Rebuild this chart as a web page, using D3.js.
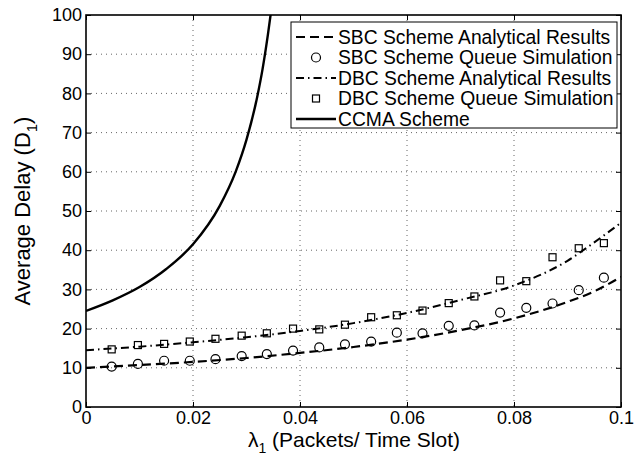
<!DOCTYPE html>
<html>
<head>
<meta charset="utf-8">
<script src="https://cdn.jsdelivr.net/npm/d3@7"></script>
<style>
  html, body { margin: 0; padding: 0; background: #fff; }
  svg { display: block; }
  text { font-family: "Liberation Sans", Arial, Helvetica, sans-serif; fill: #000; }
</style>
</head>
<body>
<svg id="chart" width="644" height="458"></svg>
<script>
// ---- data ----
const xTicks = [0, 0.02, 0.04, 0.06, 0.08, 0.1];
const xTickLabels = ["0", "0.02", "0.04", "0.06", "0.08", "0.1"];
const yTicks = [0, 10, 20, 30, 40, 50, 60, 70, 80, 90, 100];
const yTickLabels = ["0", "10", "20", "30", "40", "50", "60", "70", "80", "90", "100"];

const lambdaSim = [0.0048, 0.0097, 0.0146, 0.0194, 0.0242, 0.0291, 0.0338, 0.0387, 0.0436, 0.0484,
                   0.0533, 0.0581, 0.0629, 0.0678, 0.0726, 0.0774, 0.0823, 0.0872, 0.0921, 0.0968];
const sbcSim = [10.3, 11.0, 11.8, 11.8, 12.2, 13.0, 13.5, 14.4, 15.2, 16.0,
                16.7, 18.95, 18.8, 20.7, 20.8, 24.1, 25.3, 26.4, 29.8, 33.0];
const dbcSim = [14.7, 15.8, 16.1, 16.7, 17.4, 18.2, 18.8, 20.0, 19.8, 21.0,
                22.9, 23.4, 24.6, 26.5, 28.2, 32.3, 32.1, 38.2, 40.5, 41.8];

const lambdaAna = [0, 0.01, 0.02, 0.03, 0.04, 0.05, 0.06, 0.07, 0.08, 0.09, 0.095, 0.1];
const sbcAna = [10.0, 10.7, 11.5, 12.5, 13.8, 15.3, 17.2, 19.6, 22.6, 26.8, 29.5, 33.2];
const dbcAna = [14.5, 15.4, 16.5, 17.8, 19.4, 21.4, 24.0, 27.3, 31.0, 37.3, 42.0, 47.0];

const lambdaCcma = [0, 0.005, 0.01, 0.015, 0.02, 0.025, 0.028, 0.03, 0.032, 0.033, 0.034, 0.0346];
const ccma = [24.5, 27.2, 30.6, 35.2, 41.5, 51.3, 60.1, 68.2, 79.1, 86.2, 95.0, 101.0];

const legendLabels = ["SBC Scheme Analytical Results", "SBC Scheme Queue Simulation",
                      "DBC Scheme Analytical Results", "DBC Scheme Queue Simulation", "CCMA Scheme"];

// ---- layout ----
const svg = d3.select("#chart");
const L = 86, T = 15, R = 621, B = 407;
const x = d3.scaleLinear().domain([0, 0.1]).range([L, R]);
const y = d3.scaleLinear().domain([0, 100]).range([B, T]);

const DASH = "9,5";
const DASHDOT = "8,4,1.5,4";

svg.append("defs").append("clipPath").attr("id", "plotclip")
  .append("rect").attr("x", L).attr("y", T).attr("width", R - L).attr("height", B - T);

// grid
const grid = svg.append("g");
grid.selectAll("line.gx").data(xTicks.slice(1, -1)).join("line")
  .attr("x1", d => x(d)).attr("x2", d => x(d)).attr("y1", T).attr("y2", B)
  .attr("stroke", "#666").attr("stroke-width", 1).attr("stroke-dasharray", "1,4");
grid.selectAll("line.gy").data(yTicks.slice(1, -1)).join("line")
  .attr("y1", d => y(d)).attr("y2", d => y(d)).attr("x1", L).attr("x2", R)
  .attr("stroke", "#666").attr("stroke-width", 1).attr("stroke-dasharray", "1,4");

// axes
const fmtX = d => xTickLabels[xTicks.indexOf(d)];
const fmtY = d => yTickLabels[yTicks.indexOf(d)];
const axB = svg.append("g").attr("transform", `translate(0,${B})`)
  .call(d3.axisBottom(x).tickValues(xTicks).tickFormat(fmtX).tickSizeInner(-5).tickSizeOuter(0).tickPadding(4));
const axL = svg.append("g").attr("transform", `translate(${L},0)`)
  .call(d3.axisLeft(y).tickValues(yTicks).tickFormat(fmtY).tickSizeInner(-5).tickSizeOuter(0).tickPadding(4));
const axT = svg.append("g").attr("transform", `translate(0,${T})`)
  .call(d3.axisTop(x).tickValues(xTicks).tickFormat("").tickSizeInner(-5).tickSizeOuter(0));
const axR = svg.append("g").attr("transform", `translate(${R},0)`)
  .call(d3.axisRight(y).tickValues(yTicks).tickFormat("").tickSizeInner(-5).tickSizeOuter(0));
[axB, axL, axT, axR].forEach(a => {
  a.select(".domain").remove();
  a.selectAll(".tick line").attr("stroke", "#000").attr("stroke-width", 1);
  a.selectAll("text").attr("font-size", 18).attr("font-family", '"Liberation Sans", Arial, sans-serif');
});
svg.append("rect").attr("x", L).attr("y", T).attr("width", R - L).attr("height", B - T)
  .attr("fill", "none").attr("stroke", "#000").attr("stroke-width", 1.6);

// series
const plot = svg.append("g").attr("clip-path", "url(#plotclip)");
const line = d3.line().x(d => x(d[0])).y(d => y(d[1])).curve(d3.curveMonotoneX);

plot.append("path").datum(lambdaAna.map((l, i) => [l, sbcAna[i]]))
  .attr("d", line).attr("fill", "none").attr("stroke", "#000").attr("stroke-width", 2.2)
  .attr("stroke-dasharray", DASH);
plot.append("path").datum(lambdaAna.map((l, i) => [l, dbcAna[i]]))
  .attr("d", line).attr("fill", "none").attr("stroke", "#000").attr("stroke-width", 2)
  .attr("stroke-dasharray", DASHDOT);
plot.append("path").datum(lambdaCcma.map((l, i) => [l, ccma[i]]))
  .attr("d", line).attr("fill", "none").attr("stroke", "#000").attr("stroke-width", 2.4);

plot.selectAll("circle.sbc").data(lambdaSim.map((l, i) => [l, sbcSim[i]])).join("circle")
  .attr("cx", d => x(d[0])).attr("cy", d => y(d[1])).attr("r", 4.5)
  .attr("fill", "none").attr("stroke", "#000").attr("stroke-width", 1.2);
plot.selectAll("rect.dbc").data(lambdaSim.map((l, i) => [l, dbcSim[i]])).join("rect")
  .attr("x", d => x(d[0]) - 3.5).attr("y", d => y(d[1]) - 3.5).attr("width", 7).attr("height", 7)
  .attr("fill", "none").attr("stroke", "#000").attr("stroke-width", 1.2);

// axis labels
const xl = svg.append("text").attr("x", 354).attr("y", 447).attr("text-anchor", "middle").attr("font-size", 21);
xl.append("tspan").text("λ");
xl.append("tspan").text("1").attr("font-size", 14).attr("dy", 6);
xl.append("tspan").text(" (Packets/ Time Slot)").attr("dy", -6);

const yl = svg.append("text").attr("transform", `translate(30,${(T + B) / 2}) rotate(-90)`)
  .attr("text-anchor", "middle").attr("font-size", 22);
yl.append("tspan").text("Average Delay (D");
yl.append("tspan").text("1").attr("font-size", 15).attr("dy", 7);
yl.append("tspan").text(")").attr("dy", -7);

// legend
const lg = svg.append("g");
lg.append("rect").attr("x", 291).attr("y", 22).attr("width", 326).attr("height", 106)
  .attr("fill", "#fff").attr("stroke", "#000").attr("stroke-width", 1);
const rowY = i => 37 + i * 20.5;
const sx1 = 296, sx2 = 336, sxm = 316;
lg.append("line").attr("x1", sx1).attr("x2", sx2).attr("y1", rowY(0)).attr("y2", rowY(0))
  .attr("stroke", "#000").attr("stroke-width", 2.2).attr("stroke-dasharray", DASH);
lg.append("circle").attr("cx", sxm).attr("cy", rowY(1)).attr("r", 4.5)
  .attr("fill", "none").attr("stroke", "#000").attr("stroke-width", 1.2);
lg.append("line").attr("x1", sx1).attr("x2", sx2).attr("y1", rowY(2)).attr("y2", rowY(2))
  .attr("stroke", "#000").attr("stroke-width", 2).attr("stroke-dasharray", DASHDOT);
lg.append("rect").attr("x", sxm - 3.5).attr("y", rowY(3) - 3.5).attr("width", 7).attr("height", 7)
  .attr("fill", "none").attr("stroke", "#000").attr("stroke-width", 1.2);
lg.append("line").attr("x1", sx1).attr("x2", sx2).attr("y1", rowY(4)).attr("y2", rowY(4))
  .attr("stroke", "#000").attr("stroke-width", 2.4);
lg.selectAll("text.lt").data(legendLabels).join("text")
  .attr("x", 338).attr("y", (d, i) => rowY(i)).attr("dy", "0.35em")
  .attr("font-size", 19.3).text(d => d);
</script>
</body>
</html>
